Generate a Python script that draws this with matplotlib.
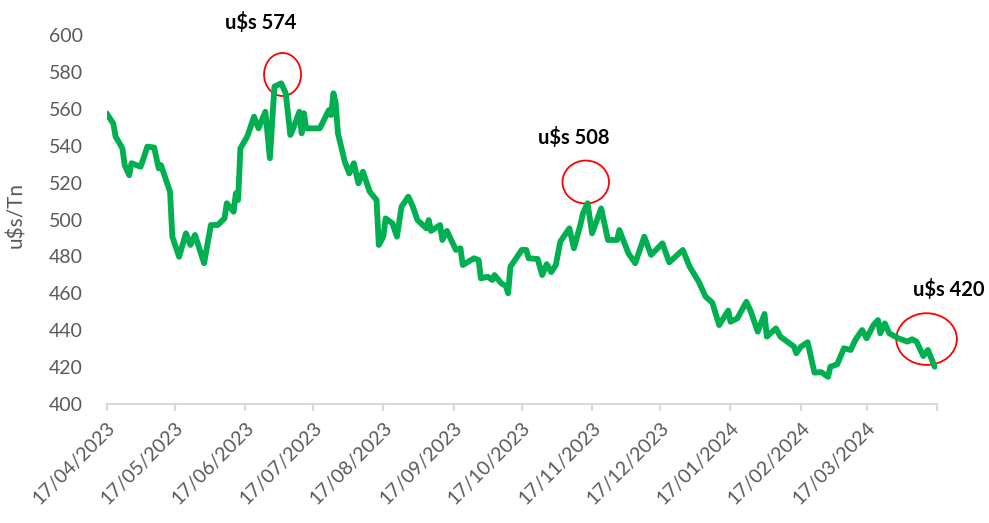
import matplotlib
matplotlib.use("Agg")
import matplotlib.pyplot as plt
import matplotlib.dates as mdates
from matplotlib.patches import Ellipse
import pandas as pd

# daily price (u$s/Tn)
dates = [
    "2023-04-17", "2023-04-20", "2023-04-21", "2023-04-24", "2023-04-25", "2023-04-27",
    "2023-04-28", "2023-05-02", "2023-05-03", "2023-05-05", "2023-05-08", "2023-05-10",
    "2023-05-11", "2023-05-15", "2023-05-16", "2023-05-19", "2023-05-22", "2023-05-24",
    "2023-05-26", "2023-05-30", "2023-06-02", "2023-06-05", "2023-06-08", "2023-06-09",
    "2023-06-12", "2023-06-13", "2023-06-14", "2023-06-15", "2023-06-18", "2023-06-21",
    "2023-06-23", "2023-06-26", "2023-06-28", "2023-06-30", "2023-07-03", "2023-07-05",
    "2023-07-07", "2023-07-08", "2023-07-11", "2023-07-12", "2023-07-13", "2023-07-14",
    "2023-07-20", "2023-07-24", "2023-07-25", "2023-07-26", "2023-07-27", "2023-07-28",
    "2023-07-31", "2023-08-02", "2023-08-04", "2023-08-06", "2023-08-08", "2023-08-11",
    "2023-08-14", "2023-08-15", "2023-08-17", "2023-08-18", "2023-08-21", "2023-08-23",
    "2023-08-25", "2023-08-28", "2023-08-30", "2023-09-01", "2023-09-05", "2023-09-06",
    "2023-09-07", "2023-09-11", "2023-09-12", "2023-09-14", "2023-09-18", "2023-09-20",
    "2023-09-21", "2023-09-26", "2023-09-28", "2023-09-29", "2023-10-02", "2023-10-04",
    "2023-10-05", "2023-10-08", "2023-10-10", "2023-10-11", "2023-10-12", "2023-10-17",
    "2023-10-19", "2023-10-20", "2023-10-24", "2023-10-26", "2023-10-28", "2023-10-30",
    "2023-11-01", "2023-11-03", "2023-11-07", "2023-11-09", "2023-11-12", "2023-11-13",
    "2023-11-15", "2023-11-17", "2023-11-21", "2023-11-24", "2023-11-28", "2023-11-29",
    "2023-12-03", "2023-12-06", "2023-12-10", "2023-12-13", "2023-12-18", "2023-12-21",
    "2023-12-27", "2023-12-30", "2024-01-03", "2024-01-06", "2024-01-09", "2024-01-12",
    "2024-01-16", "2024-01-17", "2024-01-20", "2024-01-24", "2024-01-26", "2024-01-29",
    "2024-02-01", "2024-02-02", "2024-02-06", "2024-02-08", "2024-02-14", "2024-02-15",
    "2024-02-17", "2024-02-20", "2024-02-23", "2024-02-26", "2024-02-29", "2024-03-01",
    "2024-03-04", "2024-03-07", "2024-03-10", "2024-03-12", "2024-03-15", "2024-03-17",
    "2024-03-20", "2024-03-22", "2024-03-23", "2024-03-25", "2024-03-27", "2024-03-31",
    "2024-04-04", "2024-04-06", "2024-04-08", "2024-04-11", "2024-04-13", "2024-04-16",
]
prices = [
    557.6, 552.0, 544.9, 538.6, 529.5, 524.0,
    530.5, 528.6, 532.0, 539.5, 539.0, 527.7,
    529.5, 515.0, 490.7, 479.8, 492.5, 486.2,
    491.6, 476.3, 497.0, 497.0, 500.6, 508.8,
    504.2, 514.2, 510.6, 538.6, 544.9, 555.7,
    549.4, 558.4, 533.2, 572.0, 573.8, 568.4,
    545.8, 548.5, 558.4, 546.7, 557.6, 549.4,
    549.4, 559.3, 556.6, 568.4, 563.0, 546.7,
    531.3, 525.0, 530.5, 519.6, 525.9, 515.1,
    510.6, 486.2, 490.7, 500.6, 497.9, 490.7,
    506.9, 512.4, 507.0, 499.7, 495.2, 499.7,
    493.8, 497.0, 488.9, 493.8, 483.5, 484.4,
    475.3, 479.0, 478.0, 468.1, 469.0, 467.2,
    469.9, 465.4, 464.0, 460.0, 474.4, 483.5,
    483.5, 479.0, 478.6, 469.9, 475.8, 471.5,
    475.3, 488.0, 495.2, 484.4, 497.9, 503.4,
    508.8, 492.5, 506.0, 488.9, 488.9, 494.3,
    481.7, 476.3, 490.7, 480.8, 487.1, 476.8,
    483.5, 474.4, 466.3, 458.2, 454.9, 442.8,
    450.6, 444.6, 446.4, 455.4, 450.0, 439.2,
    448.8, 436.5, 441.0, 436.5, 431.1, 427.5,
    431.0, 433.5, 417.0, 417.3, 414.7, 420.2,
    421.5, 430.2, 429.3, 434.7, 440.1, 435.6,
    442.8, 445.5, 438.3, 443.7, 438.3, 435.6,
    433.8, 435.1, 433.8, 426.0, 429.3, 420.2,
]

tick_dates = [
    "2023-04-17", "2023-05-17", "2023-06-17", "2023-07-17", "2023-08-17", "2023-09-17",
    "2023-10-17", "2023-11-17", "2023-12-17", "2024-01-17", "2024-02-17", "2024-03-17",
    "2024-04-17",
]
tick_labels = [
    "17/04/2023", "17/05/2023", "17/06/2023", "17/07/2023", "17/08/2023", "17/09/2023",
    "17/10/2023", "17/11/2023", "17/12/2023", "17/01/2024", "17/02/2024", "17/03/2024",
    "",
]

# highlighted peaks: label, label position, circle centre and size (days, u$s)
peak_labels = ["u$s 574", "u$s 508", "u$s 420"]
label_pos = [("2023-06-24", 607.0), ("2023-11-09", 544.2), ("2024-04-22", 461.8)]
circle_pos = [("2023-07-03 14:00", 578.6), ("2023-11-14 05:00", 520.3), ("2024-04-12 10:00", 435.2)]
circle_size = [(16.3, 23.3), (20.5, 23.3), (26.7, 28.0)]

GREEN = "#00B050"
GREY = "#595959"

plt.rcParams["font.family"] = ["Lato", "DejaVu Sans"]

fig = plt.figure(figsize=(9.89, 5.23), dpi=100)
ax = fig.add_axes([0.1077, 0.2275, 0.8397, 0.7056])

x = pd.to_datetime(dates)
ax.plot(x, prices, color=GREEN, lw=4.2, solid_joinstyle="round", solid_capstyle="round")

ax.set_xlim(pd.Timestamp("2023-04-17"), pd.Timestamp("2024-04-17"))
ax.set_ylim(400, 600)
ax.set_yticks(range(400, 601, 20))
ax.set_xticks(pd.to_datetime(tick_dates))
ax.set_xticklabels(tick_labels, rotation=45, ha="right", rotation_mode="anchor")

for side in ["top", "right", "left"]:
    ax.spines[side].set_visible(False)
ax.spines["bottom"].set_color("#d9d9d9")
ax.spines["bottom"].set_linewidth(1.5)

ax.tick_params(axis="y", length=0, pad=17, labelsize=14, labelcolor=GREY)
ax.tick_params(axis="x", length=5, width=1.5, color="#d9d9d9", pad=6,
               labelsize=14, labelcolor=GREY)

ax.set_ylabel("u$s/Tn", fontsize=15, color=GREY)
ax.yaxis.set_label_coords(-0.097, 0.512)

for lab, (d, v) in zip(peak_labels, label_pos):
    ax.text(pd.Timestamp(d), v, lab, ha="center", va="center",
            fontsize=14.5, fontweight="bold", color="black", clip_on=False)

for (d, v), (w, h) in zip(circle_pos, circle_size):
    e = Ellipse((mdates.date2num(pd.Timestamp(d)), v), w, h,
                fill=False, edgecolor="#FF0000", lw=1.3, clip_on=False)
    ax.add_patch(e)

fig.savefig("out.png", dpi=100)
